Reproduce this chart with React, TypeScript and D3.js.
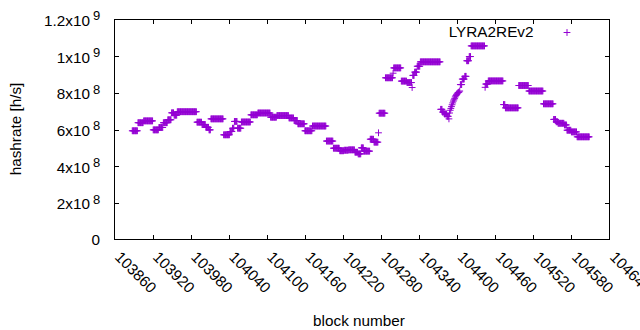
import React from "react";
import * as d3 from "d3";

// Runs of consecutive blocks sharing the same hashrate estimate
const runStart = [
  103888, 103897, 103906, 103921, 103930, 103937, 103944, 103950, 103954, 103959,
  103990, 103998, 104004, 104009, 104012, 104032, 104042, 104046, 104049, 104054,
  104060, 104075, 104086, 104106, 104116, 104135, 104143, 104149, 104160, 104172,
  104194, 104205, 104215, 104222, 104229, 104239, 104244, 104249, 104253, 104263,
  104269, 104276, 104277, 104287, 104299, 104300, 104312, 104321, 104329, 104330,
  104333, 104337, 104342, 104374, 104377, 104380, 104384, 104387,
  104388, 104389, 104390, 104391, 104392, 104393, 104394, 104395, 104396, 104397,
  104398, 104399, 104400, 104401, 104402, 104403, 104404,
  104405, 104408, 104412, 104415, 104419, 104422, 104444, 104445, 104449, 104473,
  104476, 104497, 104513, 104536, 104552, 104556, 104559, 104569, 104573, 104580,
  104589,
];
const runEnd = [
  103896, 103905, 103920, 103929, 103936, 103943, 103949, 103953, 103958, 103989,
  103997, 104003, 104008, 104011, 104031, 104041, 104045, 104048, 104053, 104059,
  104074, 104085, 104105, 104115, 104134, 104142, 104148, 104159, 104171, 104193,
  104204, 104214, 104221, 104228, 104238, 104243, 104248, 104252, 104262, 104268,
  104275, 104276, 104286, 104298, 104299, 104311, 104320, 104328, 104329, 104332,
  104336, 104341, 104373, 104376, 104379, 104383, 104386, 104387,
  104388, 104389, 104390, 104391, 104392, 104393, 104394, 104395, 104396, 104397,
  104398, 104399, 104400, 104401, 104402, 104403, 104404,
  104407, 104411, 104414, 104418, 104421, 104443, 104444, 104448, 104472, 104475,
  104496, 104512, 104535, 104551, 104555, 104558, 104568, 104572, 104579, 104588,
  104608,
];
const runHashrate = [
  5.93e8, 6.37e8, 6.47e8, 5.98e8, 6.11e8, 6.37e8, 6.53e8, 6.91e8, 6.78e8, 6.97e8,
  6.40e8, 6.27e8, 6.12e8, 5.98e8, 6.58e8, 5.71e8, 5.89e8, 6.07e8, 6.44e8, 6.07e8,
  6.41e8, 6.80e8, 6.90e8, 6.67e8, 6.76e8, 6.63e8, 6.49e8, 6.31e8, 5.93e8, 6.19e8,
  5.37e8, 4.98e8, 4.84e8, 4.87e8, 4.89e8, 4.76e8, 4.67e8, 5.00e8, 4.82e8, 5.47e8,
  5.31e8, 5.82e8, 6.89e8, 8.82e8, 9.07e8, 9.36e8, 8.64e8, 8.56e8, 8.29e8, 8.95e8,
  9.13e8, 9.45e8, 9.69e8, 7.10e8, 6.95e8, 6.85e8, 6.72e8, 6.58e8,
  6.90e8, 7.05e8, 7.15e8, 7.25e8, 7.35e8, 7.45e8, 7.55e8, 7.62e8, 7.70e8, 7.78e8,
  7.85e8, 7.90e8, 7.95e8, 8.00e8, 8.02e8, 8.05e8, 8.10e8,
  8.45e8, 8.75e8, 8.90e8, 9.75e8, 9.98e8, 1.056e9, 8.30e8, 8.48e8, 8.65e8, 7.36e8,
  7.18e8, 8.40e8, 8.10e8, 7.40e8, 6.55e8, 6.42e8, 6.34e8, 6.25e8, 5.96e8, 5.87e8,
  5.60e8,
];

const seriesName = "LYRA2REv2";
const xTicks = [
  103860, 103920, 103980, 104040, 104100, 104160, 104220, 104280, 104340, 104400,
  104460, 104520, 104580, 104640,
];
const yTicks = [0, 2e8, 4e8, 6e8, 8e8, 1e9, 1.2e9];
const yTickMantissa = ["0", "2x10", "4x10", "6x10", "8x10", "1x10", "1.2x10"];
const yTickExponent = ["", "8", "8", "8", "8", "9", "9"];
const xTitle = "block number";
const yTitle = "hashrate [h/s]";

const W = 640;
const H = 330;
const L = 114.5;
const R = 609.5;
const T = 19.5;
const B = 239.5;
const COLOR = "#9400d3";
const FONT = "'Liberation Sans', Arial, sans-serif";
const FS = 15.3;

export default function App() {
  const x = d3.scaleLinear().domain([103860, 104640]).range([L, R]);
  const y = d3.scaleLinear().domain([0, 1.2e9]).range([B, T]);

  const pts: { b: number; v: number }[] = [];
  runStart.forEach((s, i) => {
    for (let b = s; b <= runEnd[i]; b++) pts.push({ b, v: runHashrate[i] });
  });
  const a = 3.4;
  const plusPath = pts
    .map((p) => {
      const px = x(p.b);
      const py = y(p.v);
      return `M${px - a},${py}h${2 * a}M${px},${py - a}v${2 * a}`;
    })
    .join("");

  const tk = 4.5;

  return (
    <svg
      width={W}
      height={H}
      viewBox={`0 0 ${W} ${H}`}
      style={{ position: "absolute", left: 0, top: 0, background: "#fff" }}
      fontFamily={FONT}
      fontSize={FS}
    >
      <rect x={0} y={0} width={W} height={H} fill="#fff" />
      {/* y ticks */}
      {yTicks.map((t, i) => (
        <g key={"y" + i}>
          {i > 0 && i < yTicks.length - 1 && (
            <>
              <line x1={L} x2={L + tk} y1={Math.round(y(t)) + 0.5} y2={Math.round(y(t)) + 0.5} stroke="#000" />
              <line x1={R} x2={R - tk} y1={Math.round(y(t)) + 0.5} y2={Math.round(y(t)) + 0.5} stroke="#000" />
            </>
          )}
          {yTickExponent[i] === "" ? (
            <text x={100} y={y(t) + 5.5} textAnchor="end" fill="#000">
              {yTickMantissa[i]}
            </text>
          ) : (
            <>
              <text x={90} y={y(t) + 6.5} textAnchor="end" fill="#000">
                {yTickMantissa[i]}
              </text>
              <text x={93} y={y(t) + 0.8} fontSize={13} fill="#000">
                {yTickExponent[i]}
              </text>
            </>
          )}
        </g>
      ))}
      {/* x ticks */}
      {xTicks.map((t, i) => (
        <g key={"x" + i}>
          {i > 0 && i < xTicks.length - 1 && (
            <>
              <line x1={Math.round(x(t)) + 0.5} x2={Math.round(x(t)) + 0.5} y1={B} y2={B - tk} stroke="#000" />
              <line x1={Math.round(x(t)) + 0.5} x2={Math.round(x(t)) + 0.5} y1={T} y2={T + tk} stroke="#000" />
            </>
          )}
          <text
            transform={`translate(${x(t) - 0.5},258) rotate(45)`}
            textAnchor="start"
            fill="#000"
          >
            {t}
          </text>
        </g>
      ))}
      {/* border */}
      <rect x={L} y={T} width={R - L} height={B - T} fill="none" stroke="#000" strokeWidth={1} />
      {/* data */}
      <path d={plusPath} stroke={COLOR} strokeWidth={1} fill="none" />
      {/* legend */}
      <text x={533.5} y={37.3} textAnchor="end" fill="#000">
        {seriesName}
      </text>
      <path d={`M${567 - a},32.5h${2 * a}M567,${32.5 - a}v${2 * a}`} stroke={COLOR} strokeWidth={1} fill="none" />
      {/* titles */}
      <text x={359} y={326} textAnchor="middle" fill="#000">
        {xTitle}
      </text>
      <text transform="translate(21,129) rotate(-90)" textAnchor="middle" fill="#000">
        {yTitle}
      </text>
    </svg>
  );
}
